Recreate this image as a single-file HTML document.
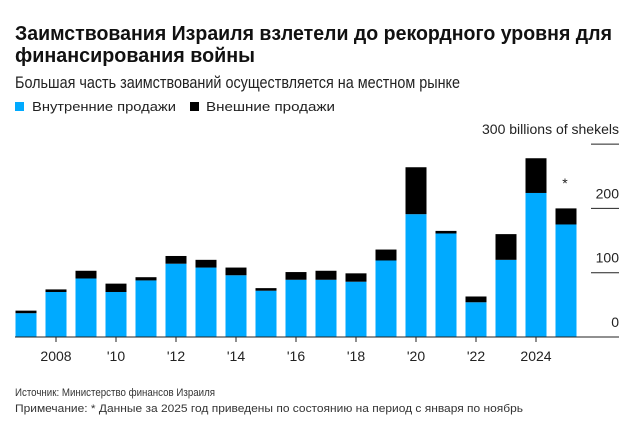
<!DOCTYPE html>
<html><head><meta charset="utf-8"><style>
html,body{margin:0;padding:0;background:#fff;}
svg{display:block;font-family:"Liberation Sans","Noto Sans CJK SC",sans-serif;}
</style></head><body>
<svg id="chart" width="636" height="436" viewBox="0 0 636 436">
<text x="15" y="40" font-size="20" font-weight="bold" fill="#111" textLength="597" lengthAdjust="spacingAndGlyphs">Заимствования Израиля взлетели до рекордного уровня для</text>
<text x="15" y="62" font-size="20" font-weight="bold" fill="#111" textLength="240" lengthAdjust="spacingAndGlyphs">финансирования войны</text>
<text x="15" y="88" font-size="17" fill="#222" textLength="445" lengthAdjust="spacingAndGlyphs">Большая часть заимствований осуществляется на местном рынке</text>
<g>
<rect x="15" y="102" width="9" height="9" fill="#00aaff"/>
<text x="32" y="111" font-size="13" fill="#222" textLength="144" lengthAdjust="spacingAndGlyphs">Внутренние продажи</text>
<rect x="190" y="102" width="9" height="9" fill="#000"/>
<text x="206" y="111" font-size="13" fill="#222" textLength="129" lengthAdjust="spacingAndGlyphs">Внешние продажи</text>
</g>
<g id="grid"></g>
<g id="bars"></g>
<g id="xaxis"></g>
<text x="565" y="188" font-size="14" fill="#222" text-anchor="middle">*</text>
<text x="15" y="396" font-size="11" fill="#333" textLength="200" lengthAdjust="spacingAndGlyphs">Источник: Министерство финансов Израиля</text>
<text x="15" y="412" font-size="11" fill="#333" textLength="508" lengthAdjust="spacingAndGlyphs">Примечание: * Данные за 2025 год приведены по состоянию на период с января по ноябрь</text>
</svg>
<script>
const years = [2007,2008,2009,2010,2011,2012,2013,2014,2015,2016,2017,2018,2019,2020,2021,2022,2023,2024,2025];
const domestic = [37,70,91,70,88,114,108,96,72,89,89,86,119,191,161,54,120,224,175];
const external = [4,4,12,13,5,12,12,12,4,12,14,13,17,73,4,9,40,54,25];
const yTicks = [0,100,200,300];
const yTickLabels = ["0","100","200","300 billions of shekels"];
const xTickYears = [2008,2010,2012,2014,2016,2018,2020,2022,2024];
const xTickLabels = ["2008","'10","'12","'14","'16","'18","'20","'22","2024"];

const NS = "http://www.w3.org/2000/svg";
const y0 = 337, pxPer = 0.643;
const yScale = v => y0 - v * pxPer;
const xScale = yr => 26 + (yr - 2007) * 30;
const barW = 21;
function mk(tag, attrs, parent){const e=document.createElementNS(NS,tag);for(const k in attrs)e.setAttribute(k,attrs[k]);parent.appendChild(e);return e;}
const grid=document.getElementById('grid'), bars=document.getElementById('bars'), xa=document.getElementById('xaxis');
yTicks.forEach((t,i)=>{
  if(t>0){
    const l=mk('line',{x1:591,x2:619,y1:yScale(t),y2:yScale(t),stroke:'#222','stroke-width':1},grid);
    
    
  }
  const tx=mk('text',{x:619,y:yScale(t)-10,'font-size':14,fill:'#222','text-anchor':'end'},grid);
  tx.textContent=yTickLabels[i];
  
  
});
years.forEach((yr,i)=>{
  const x=xScale(yr)-barW/2;
  const b=mk('rect',{x:x,y:yScale(domestic[i]),width:barW,height:y0-yScale(domestic[i]),fill:'#00aaff'},bars);
  
  
  const e=mk('rect',{x:x,y:yScale(domestic[i]+external[i]),width:barW,height:external[i]*pxPer,fill:'#000'},bars);
  
  
});
const base=mk('line',{x1:15,x2:619,y1:y0,y2:y0,stroke:'#222','stroke-width':1},xa);


xTickYears.forEach((yr,i)=>{
  const t=mk('line',{x1:xScale(yr),x2:xScale(yr),y1:y0,y2:y0+5,stroke:'#222','stroke-width':1},xa);
  
  
  const tx=mk('text',{x:xScale(yr),y:361,'font-size':14,fill:'#222','text-anchor':'middle'},xa);
  tx.textContent=xTickLabels[i];
  
  
});
</script>
</body></html>
